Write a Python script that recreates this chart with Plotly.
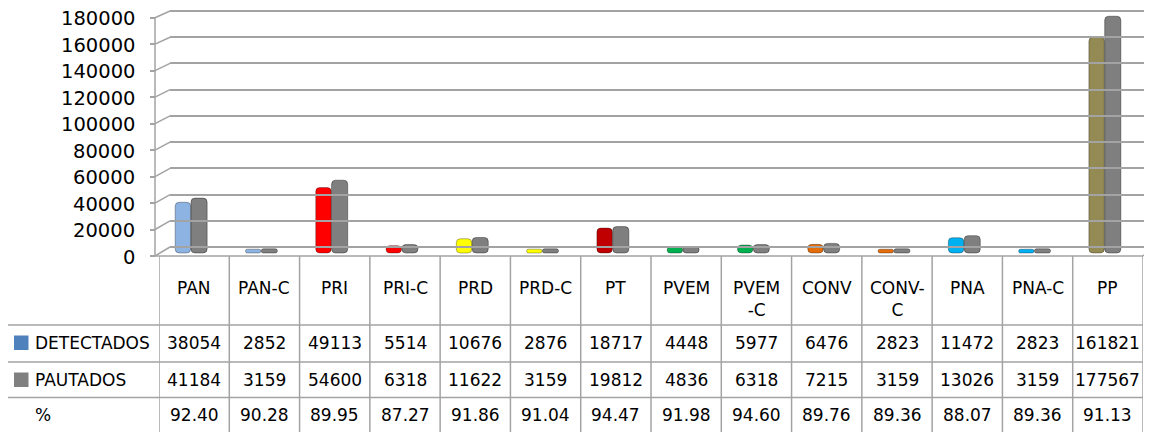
import plotly.graph_objects as go

# ---------------- data ----------------
categories = ["PAN", "PAN-C", "PRI", "PRI-C", "PRD", "PRD-C", "PT", "PVEM",
              "PVEM-C", "CONV", "CONV-C", "PNA", "PNA-C", "PP"]
header_labels = ["PAN", "PAN-C", "PRI", "PRI-C", "PRD", "PRD-C", "PT", "PVEM",
                 "PVEM<br>-C", "CONV", "CONV-<br>C", "PNA", "PNA-C", "PP"]
detectados = [38054, 2852, 49113, 5514, 10676, 2876, 18717, 4448, 5977, 6476,
              2823, 11472, 2823, 161821]
pautados = [41184, 3159, 54600, 6318, 11622, 3159, 19812, 4836, 6318, 7215,
            3159, 13026, 3159, 177567]
porcentaje = [92.40, 90.28, 89.95, 87.27, 91.86, 91.04, 94.47, 91.98, 94.60,
              89.76, 89.36, 88.07, 89.36, 91.13]
y_ticks = [0, 20000, 40000, 60000, 80000, 100000, 120000, 140000, 160000, 180000]
row_labels = ["DETECTADOS", "PAUTADOS", "%"]

detectados_colors = ["#8db3e2", "#8db3e2", "#ff0000", "#ff0000", "#ffff00",
                     "#ffff00", "#c00000", "#00b050", "#00b050", "#e46c0a",
                     "#e46c0a", "#00b0f0", "#00b0f0", "#948a54"]
pautados_color = "#7f7f7f"
legend_colors = ["#4f81bd", "#808080", None]

# ---------------- layout helpers ----------------
W, H = 1152, 432
OFF = 8  # page body margin in the browser
FONT = "DejaVu Sans"
GRID = "#a3a3a3"
YMAX = 180000
YBOT, YTOP = -1500, 181500  # axis range, a little beyond the first/last tick
YRANGE = [YBOT, YTOP]


def px(x):
    return (x - OFF) / W


def py(y):
    return 1 - (y - OFF) / H


def make_dom(y_zero_px, y_max_px):
    """domain such that 0 sits at y_zero_px and YMAX at y_max_px"""
    d0 = py(y_zero_px)
    per = (py(y_max_px) - d0) / YMAX
    return [d0 + YBOT * per, min(1.0, d0 + YTOP * per)]


bar_dom = make_dom(253, 13)
back_dom = make_dom(247, 11)
front_dom = make_dom(256, 17.7)


def dom_y(dom, v):
    return dom[0] + (dom[1] - dom[0]) * (v - YBOT) / (YTOP - YBOT)


fig = go.Figure()

fig.add_trace(go.Bar(
    x=categories, y=detectados, name="DETECTADOS",
    marker=dict(color=detectados_colors, line=dict(color="rgba(0,0,0,0.3)", width=1),
                cornerradius=4),
    offset=-0.27, width=0.22, base=0, xaxis="x", yaxis="y", showlegend=False))
fig.add_trace(go.Bar(
    x=categories, y=pautados, name="PAUTADOS",
    marker=dict(color=pautados_color, line=dict(color="rgba(0,0,0,0.35)", width=1),
                cornerradius=4),
    offset=-0.045, width=0.23, base=0, xaxis="x", yaxis="y", showlegend=False))

# helper traces so the back-wall grid axis and the front label axis render
fig.add_trace(go.Scatter(x=[None], y=[None], xaxis="x2", yaxis="y2",
                         showlegend=False, hoverinfo="skip"))
fig.add_trace(go.Scatter(x=[None], y=[None], xaxis="x2", yaxis="y3",
                         showlegend=False, hoverinfo="skip"))

shapes = []
# slanted connectors between front ticks and back grid
for v in y_ticks:
    shapes.append(dict(type="line", xref="paper", yref="paper", layer="below",
                       x0=px(155), x1=px(170), y0=dom_y(front_dom, v), y1=dom_y(back_dom, v),
                       line=dict(color=GRID, width=1.5)))
# front axis line (0 .. last tick)
shapes.append(dict(type="line", xref="paper", yref="paper", x0=px(155), x1=px(155),
                   y0=dom_y(front_dom, 0), y1=dom_y(front_dom, YMAX),
                   line=dict(color=GRID, width=1.5)))
# floor front edge and right slant
shapes.append(dict(type="line", xref="paper", yref="paper", x0=px(155), x1=px(1143),
                   y0=py(256), y1=py(256), line=dict(color=GRID, width=1.5)))
shapes.append(dict(type="line", xref="paper", yref="paper", x0=px(1143), x1=px(1152),
                   y0=py(256), y1=py(248), line=dict(color=GRID, width=1.5)))
# table column lines
for i in range(len(categories) + 1):
    shapes.append(dict(type="line", xref="x", yref="paper", x0=i - 0.5, x1=i - 0.5,
                       y0=py(256), y1=py(440), line=dict(color=GRID, width=1.5)))
# table row lines
for yy in [325, 362, 397.5]:
    shapes.append(dict(type="line", xref="paper", yref="paper", x0=px(7), x1=px(1143),
                       y0=py(yy), y1=py(yy), line=dict(color=GRID, width=1.5)))
shapes.append(dict(type="line", xref="paper", yref="paper", x0=px(7), x1=px(7),
                   y0=py(325), y1=py(440), line=dict(color=GRID, width=1.5)))

row_y = [343, 380, 414.5]
# legend keys
for c, yy in zip(legend_colors, row_y):
    if c:
        shapes.append(dict(type="rect", xref="paper", yref="paper",
                           x0=px(14), x1=px(28.5), y0=py(yy - 7.5), y1=py(yy + 7),
                           fillcolor=c, line=dict(width=0)))

annotations = []
# value-axis tick labels, placed through the front value axis (y3)
for v in y_ticks:
    annotations.append(dict(x=px(137), y=v, xref="paper", yref="y3", text=f"{v:d}",
                            showarrow=False, xanchor="right", yanchor="middle",
                            yshift=-1, font=dict(family=FONT, size=19.5, color="#000000")))

tfont = dict(family=FONT, size=17, color="#000000")
for i, lab in enumerate(header_labels):
    annotations.append(dict(x=i, y=py(276), xref="x", yref="paper", text=lab,
                            showarrow=False, xanchor="center", yanchor="top",
                            align="center", font=tfont))
rows = [[str(v) for v in detectados], [str(v) for v in pautados],
        [f"{v:.2f}" for v in porcentaje]]
for r, yy in zip(rows, row_y):
    for i, t in enumerate(r):
        annotations.append(dict(x=i, y=py(yy), xref="x", yref="paper", text=t,
                                showarrow=False, xanchor="center", yanchor="middle",
                                font=tfont))
for lab, yy in zip(row_labels, row_y):
    annotations.append(dict(x=px(33), y=py(yy), xref="paper", yref="paper", text=lab,
                            showarrow=False, xanchor="left", yanchor="middle",
                            font=tfont))

fig.update_layout(
    width=W, height=H,
    margin=dict(l=0, r=0, t=0, b=0, autoexpand=False),
    paper_bgcolor="white", plot_bgcolor="rgba(0,0,0,0)",
    barmode="overlay",
    font=dict(family=FONT, color="#000000"),
    xaxis=dict(domain=[px(159), px(1143)], range=[-0.5, len(categories) - 0.5],
               visible=False, anchor="y"),
    yaxis=dict(domain=bar_dom, range=YRANGE, visible=False, anchor="x"),
    xaxis2=dict(domain=[px(170), 1], range=[0, 1], visible=False, anchor="y2"),
    yaxis2=dict(domain=back_dom, range=YRANGE, anchor="x2", tickvals=y_ticks,
                showgrid=True, gridcolor=GRID, gridwidth=1.5, showticklabels=False,
                ticks="", zeroline=False, showline=False, layer="below traces"),
    yaxis3=dict(domain=front_dom, range=YRANGE, anchor="free", position=px(155),
                tickvals=y_ticks, ticks="outside", ticklen=5,
                tickcolor=GRID, tickwidth=1.5, showline=False, showticklabels=False,
                showgrid=False, zeroline=False),
    shapes=shapes,
    annotations=annotations,
)

fig.write_html("out.html")
